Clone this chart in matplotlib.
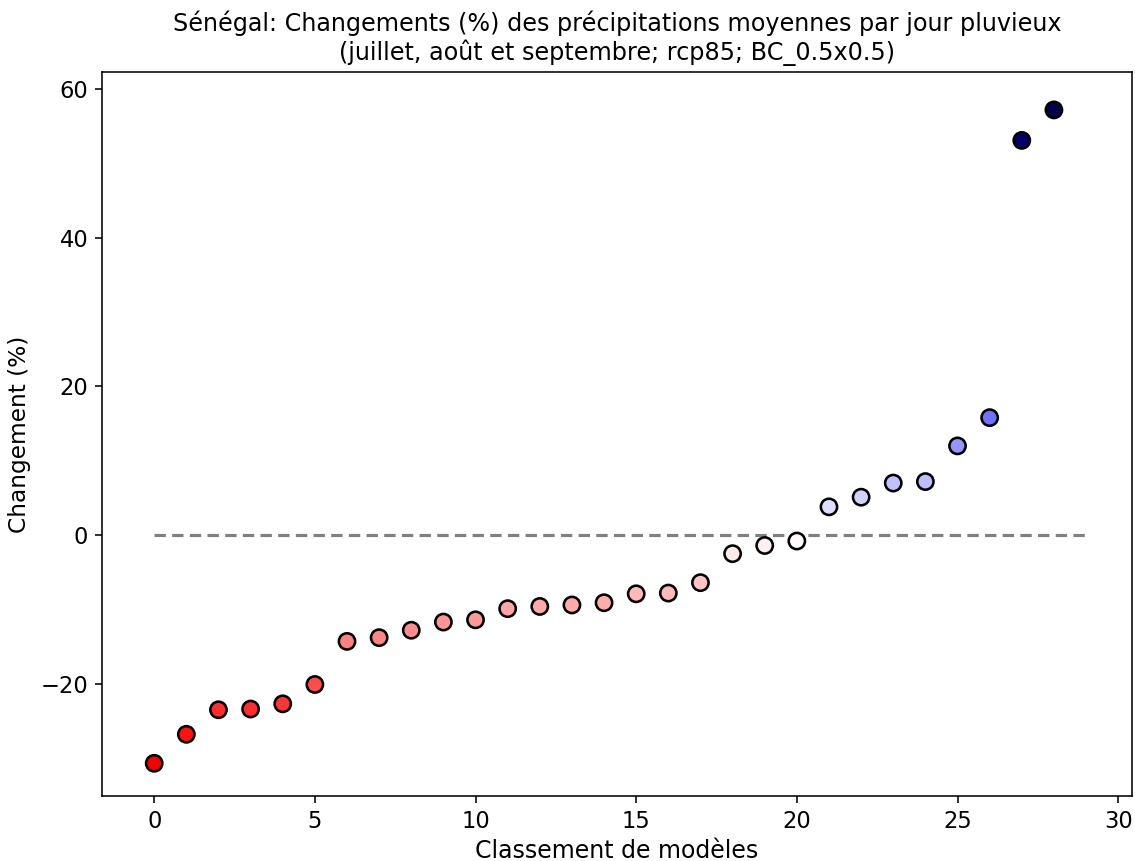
import matplotlib
matplotlib.use("Agg")
import matplotlib.pyplot as plt
import numpy as np

ranks = list(range(29))
changes = [-30.7, -26.8, -23.5, -23.4, -22.7, -20.1, -14.3, -13.8, -12.8, -11.7,
           -11.4, -9.9, -9.6, -9.4, -9.1, -7.9, -7.8, -6.4, -2.5, -1.4,
           -0.8, 3.8, 5.1, 7.0, 7.2, 12.0, 15.8, 53.1, 57.2]
title = ("Sénégal: Changements (%) des précipitations moyennes par jour pluvieux\n"
         "(juillet, août et septembre; rcp85; BC_0.5x0.5)")
xlabel = "Classement de modèles"
ylabel = "Changement (%)"

DPI = 142
fig = plt.figure(figsize=(1135 / DPI, 861 / DPI), dpi=DPI)
ax = fig.add_axes([102 / 1135, 1 - 796 / 861, (1132 - 102) / 1135, (796 - 72) / 861])

vmax = max(abs(v) for v in changes)
ax.hlines(0, 0, len(changes), colors="grey", linestyles=(0, (3.6, 2.0)), linewidth=1.6)
ax.scatter(ranks, changes, c=changes, cmap="seismic_r", vmin=-vmax, vmax=vmax,
           s=68, edgecolors="black", linewidths=1.3, zorder=3)

ax.set_xlim(-1.625, 30.43)
ax.set_ylim(-35.1, 62.3)
ax.set_xticks([0, 5, 10, 15, 20, 25, 30])
ax.set_yticks([-20, 0, 20, 40, 60])
ax.tick_params(labelsize=11.5)
ax.set_title(title, fontsize=12.1)
ax.set_xlabel(xlabel, fontsize=12, labelpad=3)
ax.set_ylabel(ylabel, fontsize=11.8, labelpad=5)

fig.savefig("out.png", dpi=DPI)
